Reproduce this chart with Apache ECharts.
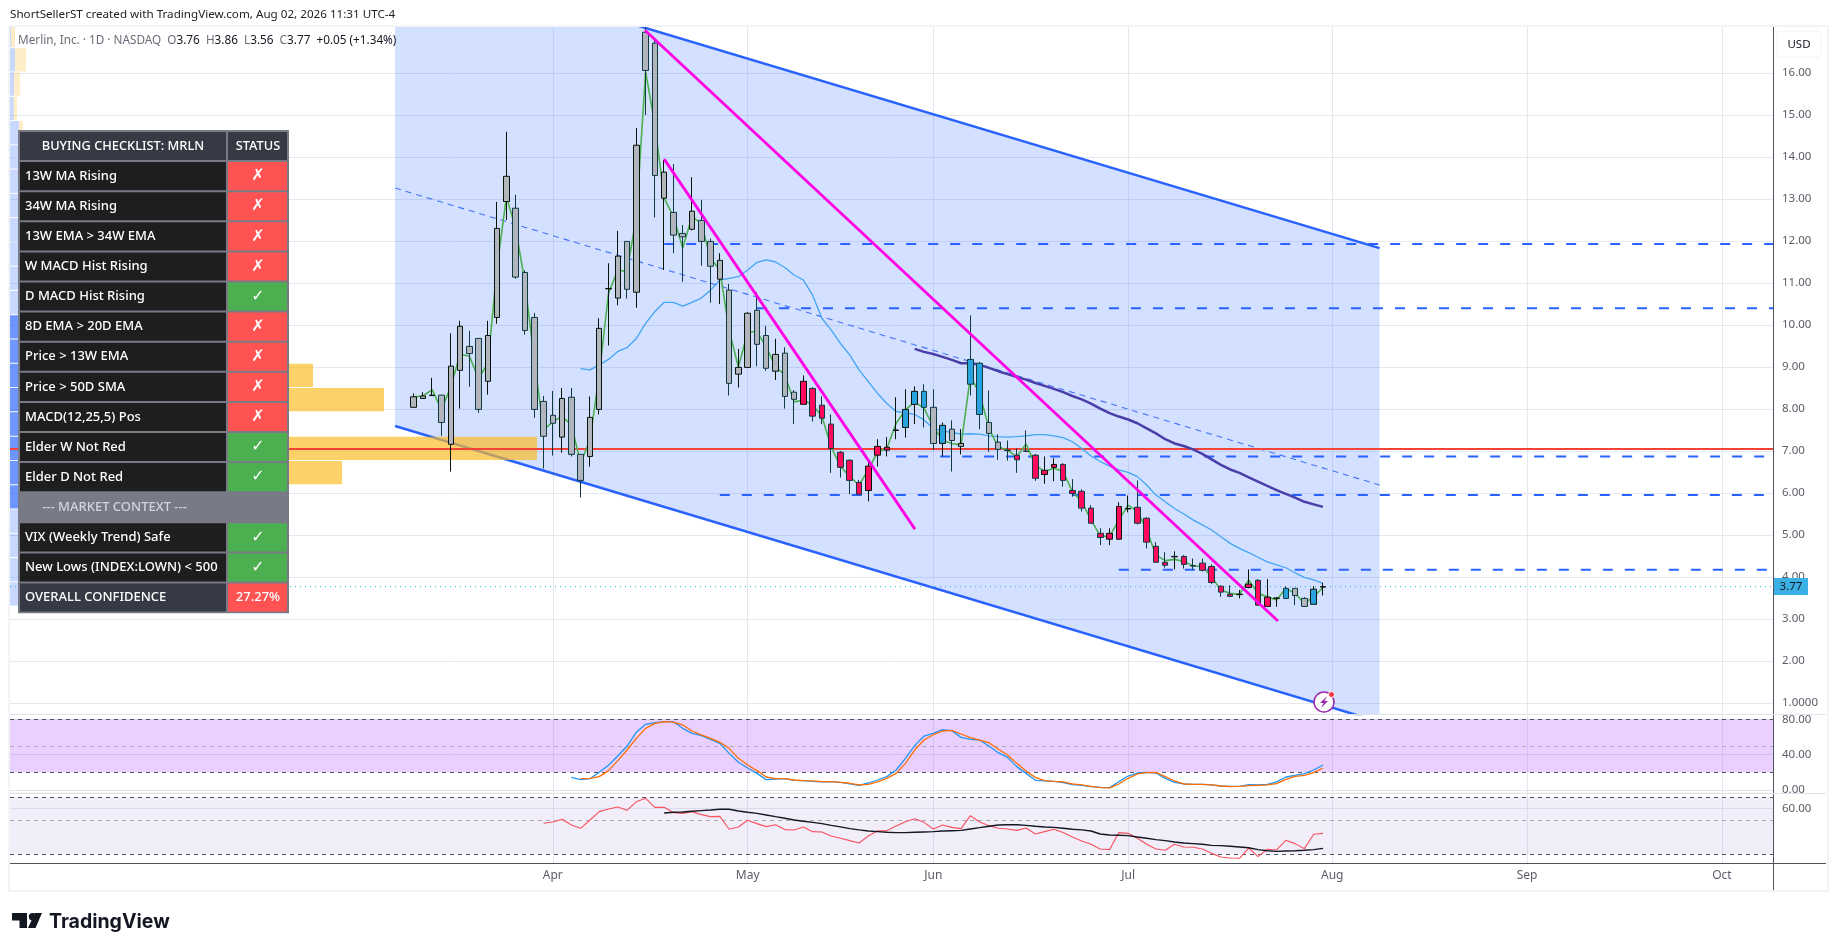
<!DOCTYPE html>
<html>
<head>
<meta charset="utf-8">
<title>MRLN</title>
<style>html,body{margin:0;padding:0;background:#fff}#c{width:1835px;height:951px}</style>
<script src="https://cdn.jsdelivr.net/npm/echarts@6/dist/echarts.min.js"></script>
</head>
<body>
<div id="c"></div>
<script>
// ---------- data ----------
var opens = [8.04,8.25,8.32,8.33,7.16,8.92,9.49,9.68,8.66,10.18,12.94,12.78,11.25,10.18,8.18,7.85,7.33,8.28,6.92,6.87,7.99,10.86,10.64,11.99,10.78,16.97,16.71,13.02,12.68,12.18,12.28,12.49,11.99,11.09,10.83,8.83,8.99,10.35,9.75,8.90,9.33,8.40,8.11,8.49,8.09,7.64,6.97,6.78,6.25,6.06,6.90,7.02,7.49,7.56,8.11,8.42,8.04,7.18,7.52,7.11,9.18,9.09,7.68,7.21,7.02,6.90,7.00,6.90,6.44,6.61,6.68,6.06,6.04,5.64,5.04,4.90,4.90,5.62,5.66,5.40,4.73,4.35,4.48,4.49,4.27,4.33,4.25,3.78,3.59,3.58,3.75,3.92,3.30,3.49,3.73,3.73,3.49,3.35,3.76];
var closes = [8.29,8.31,8.33,7.68,9.02,9.97,9.32,7.99,9.75,12.30,13.54,11.14,9.87,7.99,7.35,7.66,8.25,6.92,6.30,7.80,9.92,10.87,11.64,10.85,14.28,16.06,13.56,13.64,12.14,12.10,12.71,11.99,11.40,11.54,8.61,8.99,10.28,9.54,8.97,9.30,8.30,8.23,8.66,7.83,7.78,7.06,6.61,6.30,5.97,6.64,7.11,7.09,7.50,7.99,8.42,8.04,7.18,7.61,7.25,7.18,8.59,7.87,7.42,7.04,7.01,6.79,6.99,6.35,6.54,6.68,6.30,5.99,5.64,5.28,4.94,5.04,5.68,5.63,5.28,4.83,4.35,4.28,4.49,4.30,4.26,4.16,3.87,3.64,3.54,3.59,3.83,3.33,3.52,3.50,3.49,3.56,3.30,3.71,3.77];
var lows = [8.04,8.25,8.32,7.36,6.51,8.01,8.53,7.91,8.34,10.03,12.50,11.10,9.77,7.79,6.58,6.89,6.96,6.87,5.89,6.63,7.87,9.51,10.47,10.63,10.41,15.00,12.56,11.31,11.71,11.03,12.25,11.41,10.53,10.50,8.32,8.51,8.99,9.02,8.91,8.69,8.01,7.64,8.11,7.70,7.64,6.48,6.37,5.97,5.97,5.80,6.63,6.87,7.28,7.32,7.64,7.56,7.02,6.87,6.51,6.92,8.32,7.52,6.98,6.79,6.77,6.48,6.98,6.29,6.22,6.28,6.15,5.91,5.56,5.27,4.76,4.76,4.89,5.54,5.25,4.68,4.35,4.22,4.18,4.20,4.18,4.13,3.83,3.53,3.52,3.49,3.73,3.32,3.30,3.29,3.49,3.33,3.30,3.35,3.56];
var highs = [8.37,8.40,8.74,8.33,9.80,10.10,9.86,9.68,10.10,12.93,14.60,13.10,11.30,10.29,8.31,8.43,8.50,8.50,6.92,8.30,10.16,11.47,12.24,11.99,14.69,17.09,16.79,13.93,13.83,12.38,13.52,12.98,12.06,11.71,10.98,9.43,10.30,10.78,9.98,9.67,9.47,8.45,8.80,8.52,8.30,7.87,7.00,6.80,6.31,6.75,7.28,7.33,8.28,8.47,8.54,8.59,8.47,7.68,7.73,7.52,10.23,9.12,8.44,7.40,7.25,7.06,7.49,6.93,6.87,6.83,6.71,6.33,6.09,5.71,5.16,5.16,5.78,5.94,6.30,5.42,4.83,4.59,4.61,4.52,4.44,4.44,4.30,3.80,3.80,3.69,4.18,3.95,3.95,3.52,3.78,3.73,3.52,3.78,3.86];
// Elder impulse colour of each bar: g grey, p pink, b blue
var impulse = 'gggggggggggggggggggggggggggggggggggggggggg' + 'ppppppppppp' + 'bbbgbggbbgggpg' + 'pppppppppppppppppppppppppp' + 'p' + 'bggbg';
var fastLine = [8.29,8.31,8.46,7.98,8.53,9.30,9.26,8.73,9.09,11.39,13.05,12.30,11.00,9.17,7.50,7.70,7.82,7.62,6.71,7.26,8.81,10.75,11.31,11.27,12.58,16.03,14.76,13.02,12.58,11.83,12.58,12.42,11.59,11.31,9.88,8.99,9.84,9.84,9.48,9.00,8.81,8.17,8.21,8.10,7.82,7.10,6.63,6.39,6.19,6.55,6.98,7.06,7.66,7.98,8.17,8.02,7.58,7.26,7.18,7.14,8.77,8.37,7.54,7.10,7.02,6.86,7.17,6.67,6.51,6.59,6.51,6.03,5.79,5.36,4.98,4.96,5.36,5.71,5.56,5.12,4.52,4.39,4.42,4.37,4.26,4.25,4.00,3.69,3.61,3.59,3.93,3.61,3.53,3.45,3.73,3.61,3.37,3.53,3.75];
// midLine starts at bar 18, slowLine starts at bar 54
var midLine = [8.96,8.93,9.05,9.18,9.37,9.46,9.68,10.04,10.32,10.54,10.54,10.45,10.54,10.64,10.83,11.07,11.11,11.15,11.31,11.49,11.55,11.50,11.37,11.19,11.07,10.71,10.16,9.88,9.56,9.29,8.93,8.65,8.37,8.13,7.94,7.91,7.87,7.74,7.54,7.48,7.44,7.40,7.41,7.40,7.36,7.34,7.33,7.34,7.36,7.39,7.39,7.36,7.32,7.22,7.06,6.88,6.75,6.64,6.55,6.49,6.39,6.19,5.95,5.79,5.63,5.50,5.36,5.24,5.12,4.96,4.80,4.68,4.58,4.47,4.36,4.29,4.22,4.10,3.99,3.93,3.85];
var slowLine = [9.43,9.36,9.31,9.24,9.17,9.09,9.09,9.05,8.98,8.90,8.83,8.76,8.70,8.62,8.55,8.48,8.40,8.31,8.23,8.13,8.01,7.90,7.82,7.75,7.66,7.54,7.42,7.28,7.18,7.12,7.04,6.93,6.80,6.67,6.56,6.48,6.37,6.27,6.17,6.07,5.98,5.89,5.79,5.73,5.67];
// stochastic: blue from bar 17, orange from bar 18
var stochK = [14.3,11.7,12.8,20,27.9,38.4,49.7,65.2,74.2,76.1,77.2,77.2,69.7,64,61.4,57.3,52.7,41.4,31.3,24.9,18.8,11.7,12.4,12.8,10.9,10.6,9.8,9.1,9.4,8.7,6.8,5.3,7.9,11.3,15.1,22.6,35.8,50.1,61,64,68.2,67.1,59.5,57.3,56.5,49.7,42.2,36.9,26.4,18.8,10.9,10.2,9.8,8.3,6.1,5.3,3.8,3,2.7,9.4,15.8,19.2,20,19.2,13.2,8.7,6.8,6.4,6.4,5.7,4.5,4.2,4.2,6.1,5.7,6.4,9.1,14.7,16.6,18.5,22.6,28.3];
var stochD = [12.8,13.2,15.1,21.9,33.2,45.2,58.4,69.7,75.3,77.2,76.8,73.5,66.7,62.2,58.4,53.9,47.1,35.8,28.3,21.9,14.7,12.8,12.8,11.3,10.6,10.2,9.4,9.4,8.7,7.6,5.7,6.4,9.1,13.2,18.8,30.1,45.2,56.5,62.5,66.7,67.4,63.3,59.1,56.5,53.5,46.3,39.6,30.1,21.5,14.3,10.6,9.8,9.1,6.8,5.7,4.2,2.7,2.3,6.8,13.2,18.1,19.6,20,15.1,10.2,6.8,6.4,6.4,5.7,4.5,3.8,4.2,4.9,5.3,5.7,7.2,12.1,15.5,16.6,19.6,24.9];
// RSI from bar 14, its average from bar 27
var rsiLine = [46,47.2,49.7,44.4,41.3,49.1,56.9,59.4,61.2,58.1,66.2,69.3,60.9,60.9,56,55.3,56.9,54.1,52.2,52.5,40.4,42.6,48.8,45.7,42.9,44.7,40.1,39.8,42.6,38.2,37.9,34.1,32,29.8,27.6,34.1,39.1,39.1,43.5,47.5,50.3,46.9,40.7,44.4,42.2,41,53.1,47.2,43.8,41.3,40.7,39.4,41.6,36,38.2,40.4,37.3,33.2,29.5,26.4,22,21.4,37.3,36.6,32,26.4,22,20.8,26.4,23.9,23.6,22,17.9,14.5,13.6,13.3,22.9,14.8,21.7,21.1,30.1,27,22.3,35.7,36.6];
var rsiAvg = [55.6,56.3,56.6,57.2,57.8,58.4,59.1,59.1,57.5,56.3,55.3,53.8,52.2,50.7,49.1,47.9,46.9,45.7,44.1,42.6,41,39.8,38.8,38.2,37.6,37.3,37.3,37.6,37.9,38.2,38.8,39.1,39.4,40.7,41.9,43.2,44.4,44.7,44.7,44.1,43.2,42.6,42.2,41.3,40.4,39.8,38.8,36,35.1,34.8,34.5,33.2,32,30.7,29.8,28.5,27.6,27,26.4,25.4,25.1,24.5,23.9,23.2,21.4,20.4,19.8,20.1,20.4,20.8,21.4,22.6];
// volume profile, rows from the top of the range, in relative volume units
var vpUp   = [1,5,4,3.6,9,12,14,16,18,22,30,38,60,70,110,140,100,230,150,90,40,30,20,15];
var vpDown = [4,11,6,3.4,4,8,10,14,14,18,20,30,50,60,193,234,120,297,182,100,30,20,15,8];
var vpTop = 17.18, vpStep = 0.578, vpValueAreaFirst = 12, vpValueAreaLast = 19;
// drawings: [bar position, price]
var channelUpper = [[41,18.86],[147.1,11.83]];
var channelMiddle = [[41,13.26],[147.1,6.19]];
var channelLower = [[41,7.595],[147.1,0.55]];
var magentaLineA = [[67.93,17.02],[136.15,2.95]];
var magentaLineB = [[70,13.95],[97.03,5.14]];
var levelLines = [[70,11.93],[80,10.40],[95,6.87],[76,5.95],[119,4.17]];
var redLevel = 7.05, lastPrice = 3.77;
var monthLabels = {'2026-04-01':'Apr','2026-05-01':'May','2026-06-01':'Jun','2026-07-01':'Jul','2026-08-03':'Aug','2026-09-01':'Sep','2026-10-01':'Oct'};
var priceTicks = [1,2,3,4,5,6,7,8,9,10,11,12,13,14,15,16];
var stochTicks = [0.001,40,80];
var rsiTicks = [60];
var checklistTitle = ['BUYING CHECKLIST: MRLN','STATUS'];
var checklistNames = ['13W MA Rising','34W MA Rising','13W EMA > 34W EMA','W MACD Hist Rising','D MACD Hist Rising','8D EMA > 20D EMA','Price > 13W EMA','Price > 50D SMA','MACD(12,25,5) Pos','Elder W Not Red','Elder D Not Red','--- MARKET CONTEXT ---','VIX (Weekly Trend) Safe','New Lows (INDEX:LOWN) < 500','OVERALL CONFIDENCE'];
var checklistStatus = ['x','x','x','x','v','x','x','x','x','v','v','','v','v','27.27%'];

// ---------- calendar ----------
var holidays = ['2026-01-19','2026-02-16','2026-04-03','2026-05-25','2026-06-19','2026-07-03','2026-09-07'];
var categories = [];
(function(){
  var d = new Date(Date.UTC(2026,0,7));
  while (categories.length < 190) {
    var s = d.toISOString().slice(0,10), w = d.getUTCDay();
    if (w>0 && w<6 && holidays.indexOf(s)<0) categories.push(s);
    d = new Date(d.getTime()+86400000);
  }
})();
var firstBar = 43; // slot of 2026-03-11
var lastBarIndex = opens.length - 1;
function monthTick(i, v){ return monthLabels[v] !== undefined; }

// ---------- helpers ----------
var FONT = 'Noto Sans';
var gridLeft = 10, gridW = 1763;
var AX = '#50535e', GRIDC = '#e4e9f0', TXT = '#5a5d68';
function xCat(g, showLabel){
  return {type:'category', gridIndex:g, data:categories, boundaryGap:true,
    axisLine:{show:true, lineStyle:{color:showLabel?AX:'#e0e3eb', width:1}},
    axisTick:{show:false},
    axisLabel:{show:showLabel, interval:monthTick, formatter:function(v){return monthLabels[v]||'';}, color:TXT, fontFamily:FONT, fontSize:12, margin:7},
    splitLine:{show:true, interval:monthTick, alignWithLabel:true, lineStyle:{color:GRIDC,width:1}}
  };
}
function xVal(g){ return {type:'value', gridIndex:g, min:-0.5, max:189.5, show:false, splitLine:{show:false}}; }
function yAxis(g,min,max,ticks,fmt){
  return {type:'value', gridIndex:g, position:'right', min:min, max:max, scale:true,
    axisLine:{show:true, onZero:false, lineStyle:{color:AX}},
    axisTick:{show:false, customValues:ticks},
    axisLabel:{customValues:ticks, color:TXT, fontFamily:FONT, fontSize:11.5, margin:9, padding:[2,0,0,0], showMinLabel:true, showMaxLabel:true, hideOverlap:false, formatter:fmt||function(v){return v.toFixed(2);}},
    splitLine:{show:true, lineStyle:{color:GRIDC,width:1}}};
}
function atBars(arr, first){ return arr.map(function(v,i){ return [first+firstBar+i, v]; }); }
function line(name,data,xI,yI,color,width,type,z){
  return {name:name,type:'line',xAxisIndex:xI,yAxisIndex:yI,data:data,symbol:'none',silent:true,z:z,smooth:false,
    lineStyle:{color:color,width:width,type:type||'solid'}};
}
function levelBand(yI,xI,hi,lo,color,levels){
  return {name:'band'+yI,type:'line',xAxisIndex:xI,yAxisIndex:yI,data:[],silent:true,z:1,symbol:'none',
    markArea:{silent:true,itemStyle:{color:color},data:[[{yAxis:hi},{yAxis:lo}]]},
    markLine:{silent:true,symbol:'none',label:{show:false},animation:false,
      data:levels.map(function(l){return {yAxis:l[0],lineStyle:{color:l[1],type:[4,4],width:1}};})}};
}

// ---------- candles ----------
var COL = {g:'#b2b5be',p:'#ff0a5c',b:'#29a3dd'};
var candleData = categories.map(function(c,k){
  var i = k-firstBar;
  if (i<0 || i>lastBarIndex) return ['-','-','-','-'];
  var up = closes[i]>=opens[i];
  var fill = COL[impulse.charAt(i)||'g'];
  var edge = up ? '#06140a' : '#0e3a40';
  return {value:[opens[i],closes[i],lows[i],highs[i]], itemStyle:{color:fill,color0:fill,borderColor:edge,borderColor0:edge,borderWidth:1}};
});

// ---------- option ----------
var series = [];
series.push({name:'channel fill',type:'custom',xAxisIndex:1,yAxisIndex:0,data:[[0,0]],clip:true,z:1,silent:true,
  renderItem:function(p,api){
    var pts=[channelUpper[0],channelUpper[1],channelLower[1],channelLower[0]].map(function(q){return api.coord(q);});
    return {type:'polygon',shape:{points:pts},style:{fill:'rgba(41,98,255,0.2)'}};
  }});
series.push(line('channel upper',channelUpper,1,0,'#2962ff',2.5,'solid',2));
series.push(line('channel lower',channelLower,1,0,'#2962ff',2.5,'solid',2));
series.push(line('channel middle',channelMiddle,1,0,'#4472fb',1.1,[6,5],2));
series.push({name:'volume profile',type:'custom',xAxisIndex:2,yAxisIndex:0,data:vpUp.map(function(u,n){return [n,u,vpDown[n]];}),clip:true,z:3,silent:true,
  renderItem:function(p,api){
    var n=api.value(0),u=api.value(1),d=api.value(2);
    var hiP=vpTop-vpStep*n, loP=hiP-vpStep;
    var a=api.coord([0,hiP]), b=api.coord([u,loP]), c=api.coord([u+d,loP]);
    var strong=n>=vpValueAreaFirst&&n<=vpValueAreaLast;
    return {type:'group',children:[
      {type:'rect',shape:{x:a[0],y:a[1]+0.5,width:b[0]-a[0],height:b[1]-a[1]-1},style:{fill:strong?'rgba(41,98,255,0.67)':'rgba(41,98,255,0.25)'}},
      {type:'rect',shape:{x:b[0],y:a[1]+0.5,width:c[0]-b[0],height:b[1]-a[1]-1},style:{fill:strong?'rgba(252,186,31,0.67)':'rgba(252,186,31,0.25)'}}
    ]};
  }});
levelLines.forEach(function(l,i){ series.push(line('level '+i,[[l[0],l[1]],[189.5,l[1]]],1,0,'#2962ff',2,[10,12],4)); });
series.push(line('support',[[-0.5,redLevel],[189.5,redLevel]],1,0,'#f44336',2,'solid',4));
series.push(line('last price',[[-0.5,lastPrice],[189.5,lastPrice]],1,0,'#22b5e6',1,[1,4],4));
series.push(line('mid MA',atBars(midLine,18),1,0,'#42a5f5',1.3,'solid',5));
series.push(line('slow MA',atBars(slowLine,54),1,0,'#4a3fa8',2.5,'solid',5));
series.push(line('fast line',atBars(fastLine,0),1,0,'#4caf50',1.6,'solid',5));
series.push({name:'MRLN',type:'candlestick',xAxisIndex:0,yAxisIndex:0,data:candleData,barWidth:6,z:6,silent:true,clip:true});
series.push(line('trend A',magentaLineA,1,0,'#ff00e6',2.8,'solid',7));
series.push(line('trend B',magentaLineB,1,0,'#ff00e6',2.8,'solid',7));
series.push(levelBand(1,3,80,20,'rgba(144,19,254,0.2)',[[80,'#50535e'],[49.4,'#aaaab2'],[20,'#50535e']]));
series.push(line('stoch K',atBars(stochK,17),4,1,'#2196f3',1.3,'solid',5));
series.push(line('stoch D',atBars(stochD,18),4,1,'#ff6d00',1.3,'solid',5));
series.push(levelBand(2,5,70.3,17,'rgba(126,87,194,0.1)',[[70.3,'#50535e'],[48.8,'#aaaab2'],[17,'#50535e']]));
series.push(line('RSI',atBars(rsiLine,14),6,2,'#f7525f',1.1,'solid',5));
series.push(line('RSI avg',atBars(rsiAvg,27),6,2,'#131722',1.4,'solid',5));

// ---------- graphic: header, frame, checklist, logo ----------
var g = [];
function T(x,y,text,o){ g.push({type:'text',x:x,y:y,z:50,silent:true,style:Object.assign({text:text,fill:'#131722',font:'12px "'+FONT+'"',textVerticalAlign:'middle'},o||{})}); }
function R(x,y,w,h,fill,o){ g.push({type:'rect',z:(o&&o.z)||40,silent:true,shape:{x:x,y:y,width:w,height:h,r:(o&&o.r)||0},style:{fill:fill,stroke:(o&&o.stroke)||null,lineWidth:(o&&o.lw)||0}}); }
function L(x1,y1,x2,y2,c,z){ g.push({type:'line',z:z||30,silent:true,shape:{x1:x1,y1:y1,x2:x2,y2:y2},style:{stroke:c,lineWidth:1}}); }
var CELLFONT = '500 13px "'+FONT+'"';
T(10,15,'ShortSellerST created with TradingView.com, Aug 02, 2026 11:31 UTC-4',{font:'11.65px "'+FONT+'"',fill:'#222'});
R(9,26,1819,865,'none',{stroke:'#f3f4f6',lw:2,z:20});
L(1773.5,27,1773.5,890,AX);
L(10,863.5,1826,863.5,AX);
L(10,714.5,1826,714.5,'#e0e3eb');
L(10,793.5,1826,793.5,'#e0e3eb');
g.push({type:'text',x:18,y:41,z:45,silent:true,style:{
  text:'{n|Merlin, Inc. · 1D · NASDAQ}  {n|O}{v|3.76}  {n|H}{v|3.86}  {n|L}{v|3.56}  {n|C}{v|3.77}  {v|+0.05 (+1.34%)}',
  textVerticalAlign:'middle',font:'11.75px "'+FONT+'"',
  rich:{n:{fill:'#6a6d78',font:'11.75px "'+FONT+'"'},v:{fill:'#131722',font:'11.75px "'+FONT+'"'}}}});
R(1777,31,44,26,'#ffffff',{stroke:'#f0f3fa',lw:1,r:4,z:42});
T(1799,44.5,'USD',{textAlign:'center',font:'11.5px "'+FONT+'"'});
R(1774,578,34,17,'#3bb0e4',{z:42});
T(1791,587,'3.77',{textAlign:'center',font:'11.5px "'+FONT+'"'});
var tx=18, ty=130, tw=271, rowH=30.1, c1=209, bd=2, colSplit=tx+c1;
R(tx,ty,tw,rowH*16+1.6,'#787b86');
function row(n,label,status,kind){
  var y=ty+bd+rowH*n, h=rowH-bd, col1={head:'#363a45',cell:'#1e1e1e',ctx:'#787b86',sum:'#363a45'}[kind];
  if (kind==='ctx'){ T(tx+tw/2-39,y+h/2,label,{textAlign:'center',fill:'#d1d4dc',font:CELLFONT}); return; }
  R(tx+bd,y,c1-bd*1.5,h,col1,{z:41});
  R(colSplit+bd/2,y,tw-c1-bd*1.5,h,status==='v'?'#4caf50':(kind==='head'?'#363a45':'#ff5252'),{z:41});
  if (kind==='head'){
    T(tx+bd+(c1-bd*1.5)/2,y+h/2,label,{textAlign:'center',fill:'#ffffff',font:'500 12.8px "'+FONT+'"'});
    T(colSplit+(tw-c1)/2,y+h/2,status,{textAlign:'center',fill:'#ffffff',font:'500 12.8px "'+FONT+'"'});
    return;
  }
  T(tx+7,y+h/2,label,{fill:'#ffffff',font:CELLFONT});
  var s = status==='x'?'\u2717':status==='v'?'\u2713':status;
  T(colSplit+(tw-c1)/2,y+h/2,s,{textAlign:'center',fill:'#ffffff',font:(s.length>1?CELLFONT:'bold 16px "DejaVu Sans"')});
}
row(0,checklistTitle[0],checklistTitle[1],'head');
checklistNames.forEach(function(n,i){
  var kind = n.indexOf('---')===0?'ctx':(i===checklistNames.length-1?'sum':'cell');
  row(i+1,n,checklistStatus[i],kind);
});
g.push({type:'circle',z:44,silent:true,shape:{cx:1324,cy:702,r:10},style:{fill:'#fff',stroke:'#9c27b0',lineWidth:1.5}});
g.push({type:'polygon',z:45,silent:true,shape:{points:[[1327,696],[1320,703],[1323.5,703],[1321,708],[1328,701],[1324.5,701]]},style:{fill:'#9c27b0'}});
g.push({type:'circle',z:46,silent:true,shape:{cx:1331.5,cy:694.5,r:3},style:{fill:'#f23645',stroke:'#fff',lineWidth:1}});
g.push({type:'polygon',z:45,silent:true,shape:{points:[[12,913],[27,913],[27,928],[19.5,928],[19.5,920.5],[12,920.5]]},style:{fill:'#131722'}});
g.push({type:'circle',z:45,silent:true,shape:{cx:32.5,cy:916.7,r:3.7},style:{fill:'#131722'}});
g.push({type:'polygon',z:45,silent:true,shape:{points:[[35,913],[42,913],[35.5,928],[28,928]]},style:{fill:'#131722'}});
T(49,922,'TradingView',{font:'bold 19.5px Inter',fill:'#131722'});

var option = {
  animation:false, backgroundColor:'#ffffff',
  grid:[
    {left:gridLeft,width:gridW,top:27,height:687},
    {left:gridLeft,width:gridW,top:714,height:79},
    {left:gridLeft,width:gridW,top:793,height:70}
  ],
  xAxis:[xCat(0,false), xVal(0),
    {type:'value',gridIndex:0,min:0,max:gridW,show:false,splitLine:{show:false}},
    xCat(1,false), xVal(1), xCat(2,true), xVal(2)],
  yAxis:[
    yAxis(0,0.738,17.095,priceTicks,function(v){return v===1?'1.0000':v.toFixed(2);}),
    yAxis(1,-3.4,85.9,stochTicks),
    yAxis(2,8.9,74.3,rsiTicks)
  ],
  series:series,
  graphic:g
};
var chart = echarts.init(document.getElementById('c'),null,{renderer:'canvas'});
chart.setOption(option);
</script>
</body>
</html>
